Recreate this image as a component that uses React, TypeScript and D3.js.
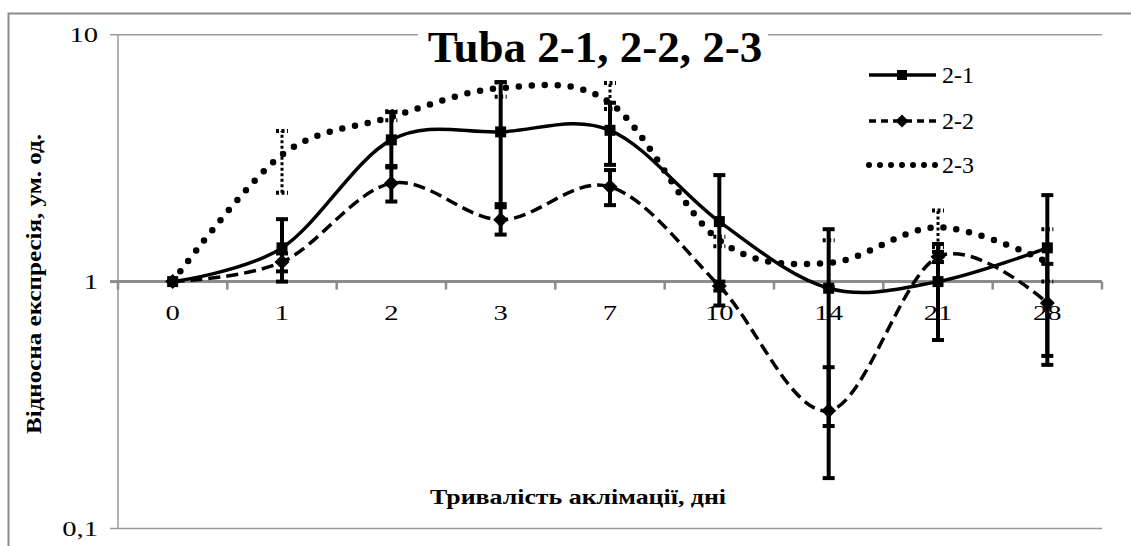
import React from "react";
import * as d3 from "d3";

const categories = ["0", "1", "2", "3", "7", "10", "14", "21", "28"];
const seriesNames = ["2-1", "2-2", "2-3"];
const s21 = [1.0, 1.37, 3.75, 4.04, 4.1, 1.75, 0.94, 1.0, 1.37];
const s22 = [1.0, 1.2, 2.5, 1.78, 2.42, 0.96, 0.3, 1.26, 0.82];
const s23 = [1.0, 3.26, 4.64, 6.08, 5.3, 1.47, 1.19, 1.66, 1.2];
const s21Lo = [1.0, 1.0, 2.94, 2.0, 2.97, 0.8, 0.26, 0.58, 0.5];
const s21Hi = [1.0, 1.79, 4.86, 6.43, 5.3, 2.7, 1.63, 1.42, 2.24];
const s22Lo = [1.0, 1.1, 2.11, 1.55, 2.04, 0.92, 0.16, 1.2, 0.46];
const s22Hi = [1.0, 1.3, 2.9, 2.06, 2.83, 1.0, 0.45, 1.32, 1.18];
const s23Lo = [1.0, 2.29, 4.5, 5.6, 5.0, 1.39, 0.95, 1.38, 1.0];
const s23Hi = [1.0, 4.07, 4.9, 6.4, 6.37, 1.52, 1.47, 1.94, 1.63];
const yTicks = [0.1, 1, 10];
const yTickLabels = ["0,1", "1", "10"];

const W = 1131;
const H = 546;
const L = 118;
const R = 1102;
const T = 34.7;
const B = 528.5;
const FONT = '"Liberation Serif", "Times New Roman", Times, serif';

export default function App() {
  const x = d3.scaleBand<string>().domain(categories).range([L, R]).paddingInner(0).paddingOuter(0);
  const y = d3.scaleLog().domain([0.1, 10]).range([B, T]);
  const cx = (c: string) => (x(c) as number) + x.bandwidth() / 2;
  const line = d3
    .line<number>()
    .x((_, i) => cx(categories[i]))
    .y((v) => y(v))
    .curve(d3.curveCardinal.tension(0));

  const series = [
    { name: seriesNames[0], vals: s21, lo: s21Lo, hi: s21Hi, dash: "none", width: 3.5, cap: "butt", errDash: "none" },
    { name: seriesNames[1], vals: s22, lo: s22Lo, hi: s22Hi, dash: "12 6", width: 3.5, cap: "butt", errDash: "none" },
    { name: seriesNames[2], vals: s23, lo: s23Lo, hi: s23Hi, dash: "0 13", width: 6.5, cap: "round", errDash: "3 2.5" },
  ];

  const y1 = y(1);
  const boundaries = categories.map((c) => x(c) as number).concat([R]);

  const square = (px: number, py: number, s: number, key: string) => (
    <rect key={key} x={px - s / 2} y={py - s / 2} width={s} height={s} fill="#000" />
  );
  const diamond = (px: number, py: number, s: number, key: string) => (
    <path key={key} d={`M${px},${py - s / 2}L${px + s / 2},${py}L${px},${py + s / 2}L${px - s / 2},${py}Z`} fill="#000" />
  );

  const txt = { fontFamily: FONT } as React.CSSProperties;

  return (
    <svg width={W} height={H} style={{ position: "absolute", left: 0, top: 0, display: "block", background: "#fff" }}>
      <rect x={0} y={0} width={W} height={H} fill="#fff" />
      <rect x={8.5} y={13.5} width={W + 20} height={H + 20} fill="none" stroke="#8a8a8a" strokeWidth={2} />

      {[10, 0.1].map((v) => (
        <line key={"g" + v} x1={110} x2={R} y1={y(v)} y2={y(v)} stroke="#9a9a9a" strokeWidth={1.5} />
      ))}
      <line x1={L} x2={L} y1={T} y2={B} stroke="#9a9a9a" strokeWidth={1.5} />
      <line x1={110} x2={L} y1={y1} y2={y1} stroke="#8c8c8c" strokeWidth={3} />
      {yTicks.map((v, i) => (
        <text
          key={"yt" + v}
          transform={`translate(98, ${y(v) + 7}) scale(1.3, 1)`}
          textAnchor="end"
          style={txt}
          fontSize={22}
          fill="#000"
        >
          {yTickLabels[i]}
        </text>
      ))}

      <line x1={L} x2={R} y1={y1} y2={y1} stroke="#8c8c8c" strokeWidth={3} />
      {boundaries.map((b, i) => (
        <line key={"xt" + i} x1={b} x2={b} y1={y1} y2={y1 + 8} stroke="#8c8c8c" strokeWidth={2.5} />
      ))}
      {categories.map((c) => (
        <text
          key={"xl" + c}
          transform={`translate(${cx(c)}, ${y1 + 38}) scale(1.3, 1)`}
          textAnchor="middle"
          style={txt}
          fontSize={22}
          fill="#000"
        >
          {c}
        </text>
      ))}

      {series.map((s) => (
        <path
          key={"l" + s.name}
          d={line(s.vals) as string}
          fill="none"
          stroke="#000"
          strokeWidth={s.width}
          strokeDasharray={s.dash}
          strokeLinecap={s.cap as any}
        />
      ))}

      {series.map((s) =>
        categories.map((c, i) => {
          if (i === 0) return null;
          const px = cx(c);
          const dotted = s.errDash !== "none";
          const sw = dotted ? 3 : 4;
          return (
            <g key={"e" + s.name + c} stroke="#000" strokeWidth={sw} strokeDasharray={s.errDash}>
              <line x1={px} x2={px} y1={y(s.lo[i])} y2={y(s.hi[i])} />
              <line x1={px - 6} x2={px + 6} y1={y(s.lo[i])} y2={y(s.lo[i])} strokeWidth={4} />
              <line x1={px - 6} x2={px + 6} y1={y(s.hi[i])} y2={y(s.hi[i])} strokeWidth={4} />
            </g>
          );
        })
      )}

      {s21.map((v, i) => square(cx(categories[i]), y(v), 11, "m21" + i))}
      {s22.map((v, i) => diamond(cx(categories[i]), y(v), 15, "m22" + i))}

      <rect x={418} y={18} width={350} height={44} fill="#fff" />
      <text x={595} y={62} textAnchor="middle" style={txt} fontWeight="bold" fontSize={45} fill="#000">
        Tuba 2-1, 2-2, 2-3
      </text>

      {series.map((s, i) => {
        const ly = [75, 121, 165][i];
        return (
          <g key={"lg" + s.name}>
            <line
              x1={869}
              x2={936}
              y1={ly}
              y2={ly}
              stroke="#000"
              strokeWidth={i === 2 ? 6 : 3.5}
              strokeDasharray={i === 1 ? "7 5" : i === 2 ? "0 11" : "none"}
              strokeLinecap={s.cap as any}
            />
            {i === 0 && square(902, ly, 10, "lgm0")}
            {i === 1 && diamond(902, ly, 13, "lgm1")}
            <text x={942} y={ly + 8} style={txt} fontSize={24} fill="#000">
              {s.name}
            </text>
          </g>
        );
      })}

      <text
        transform={`translate(41, 284) rotate(-90)`}
        textAnchor="middle"
        style={txt}
        fontWeight="bold"
        fontSize={21}
        textLength={300}
        lengthAdjust="spacingAndGlyphs"
        fill="#000"
      >
        Відносна експресія, ум. од.
      </text>
      <text
        x={578}
        y={504}
        textAnchor="middle"
        style={txt}
        fontWeight="bold"
        fontSize={21}
        textLength={296}
        lengthAdjust="spacingAndGlyphs"
        fill="#000"
      >
        Тривалість аклімації, дні
      </text>
    </svg>
  );
}
